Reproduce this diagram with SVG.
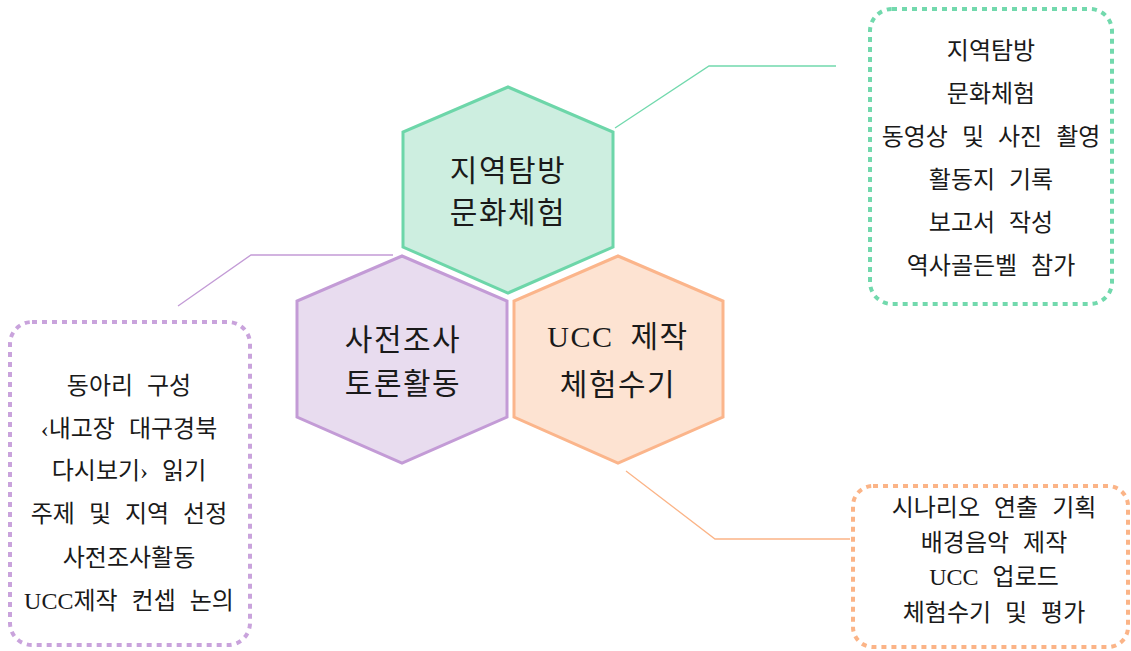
<svg xmlns="http://www.w3.org/2000/svg" width="1131" height="651" viewBox="0 0 1131 651">
<style>
text{font-family:"Liberation Serif","Noto Sans CJK KR",serif;fill:#1a1a1a;text-anchor:middle}
.hx{font-size:30px;letter-spacing:1.5px;word-spacing:8px}
.bx{font-size:24px;word-spacing:8px}
.g{fill:#cdeee0;stroke:#6dd6a9;stroke-width:3}
.p{fill:#e8dcef;stroke:#c39bd6;stroke-width:3}
.o{fill:#fde3d2;stroke:#fbb58b;stroke-width:3}
.dg{fill:none;stroke:#72d9ad;stroke-width:4;stroke-dasharray:5 5}
.dp{fill:none;stroke:#c9a3dc;stroke-width:4;stroke-dasharray:5 5}
.do{fill:none;stroke:#fbb487;stroke-width:4;stroke-dasharray:5 5}
.cg{fill:none;stroke:#72d9ad;stroke-width:1.3}
.cp{fill:none;stroke:#c39bd6;stroke-width:1.3}
.co{fill:none;stroke:#fbb487;stroke-width:1.3}
</style>
<rect width="1131" height="651" fill="#ffffff"/>
<g id="connectors">
<polyline class="cg" points="615,128 709,66 836,66"/>
<polyline class="cp" points="393,255 251,255 178,306"/>
<polyline class="co" points="626,471 715,539 850,539"/>
</g>
<g id="hex-green">
<polygon class="g" points="508,87 613,132 613,247 508,293 403,247 403,132"/>
<text class="hx" x="508" y="181">지역탐방</text>
<text class="hx" x="508" y="223">문화체험</text>
</g>
<g id="hex-purple">
<polygon class="p" points="402,256 507,301 507,417 402,463 297,417 297,301"/>
<text class="hx" x="403" y="350">사전조사</text>
<text class="hx" x="403" y="394">토론활동</text>
</g>
<g id="hex-orange">
<polygon class="o" points="618,256 723,301 723,417 618,463 514,417 514,301"/>
<text class="hx" x="618" y="347">UCC 제작</text>
<text class="hx" x="618" y="395">체험수기</text>
</g>
<g id="box-green">
<rect class="dg" x="870" y="9" width="242" height="295" rx="22"/>
<text class="bx" x="991" y="59">지역탐방</text>
<text class="bx" x="991" y="102">문화체험</text>
<text class="bx" x="991" y="145">동영상 및 사진 촬영</text>
<text class="bx" x="991" y="188">활동지 기록</text>
<text class="bx" x="991" y="231">보고서 작성</text>
<text class="bx" x="991" y="274">역사골든벨 참가</text>
</g>
<g id="box-purple">
<rect class="dp" x="10" y="322" width="240" height="323" rx="22"/>
<text class="bx" x="129" y="394">동아리 구성</text>
<text class="bx" x="129" y="437">‹내고장 대구경북</text>
<text class="bx" x="129" y="479">다시보기› 읽기</text>
<text class="bx" x="129" y="522">주제 및 지역 선정</text>
<text class="bx" x="129" y="566">사전조사활동</text>
<text class="bx" x="129" y="609">UCC제작 컨셉 논의</text>
</g>
<g id="box-orange">
<rect class="do" x="853" y="486" width="275" height="161" rx="20"/>
<text class="bx" x="994" y="516">시나리오 연출 기획</text>
<text class="bx" x="994" y="551">배경음악 제작</text>
<text class="bx" x="994" y="585">UCC 업로드</text>
<text class="bx" x="994" y="621">체험수기 및 평가</text>
</g>
</svg>
